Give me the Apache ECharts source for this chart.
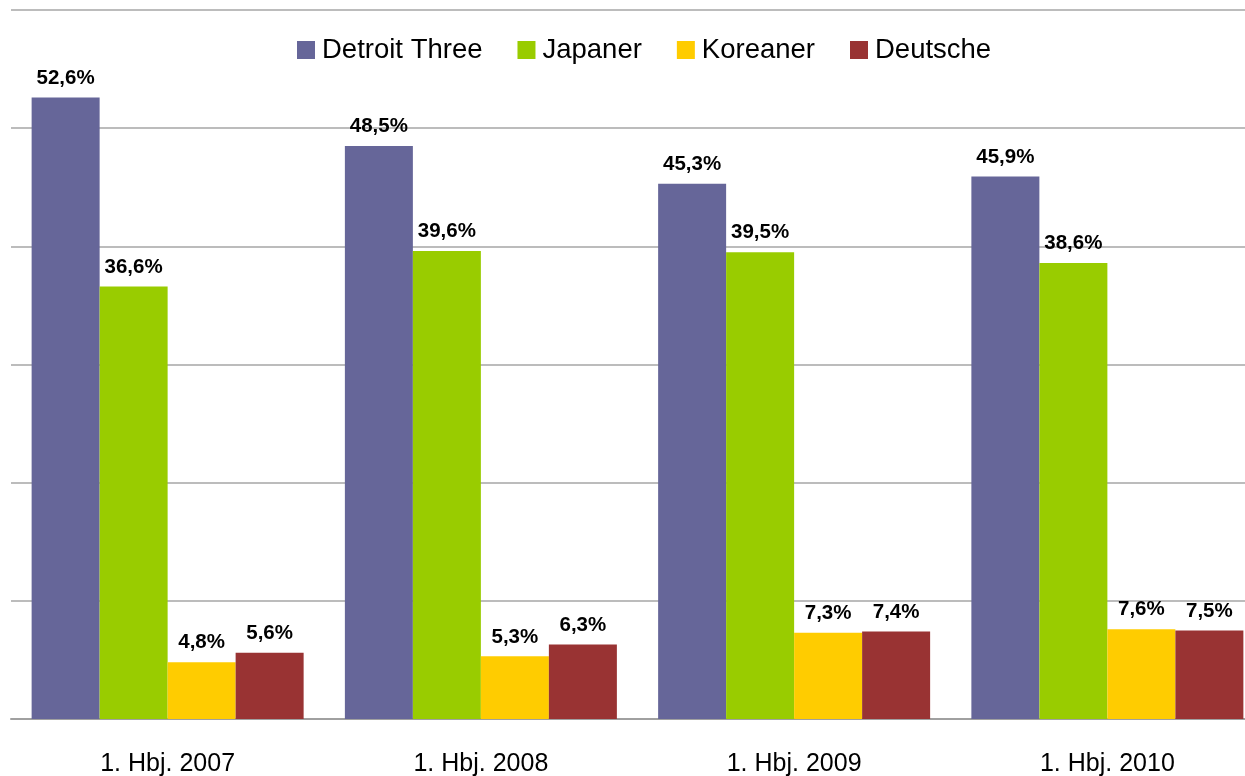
<!DOCTYPE html>
<html>
<head>
<meta charset="utf-8">
<script src="https://cdn.jsdelivr.net/npm/echarts@6/dist/echarts.min.js"></script>
<style>
    html, body { margin: 0; padding: 0; background: #fff; }
    #main { width: 1245px; height: 776px; }
</style>
</head>
<body>
<div id="main"></div>
<script>
// Marktanteile USA
var categories = ['1. Hbj. 2007', '1. Hbj. 2008', '1. Hbj. 2009', '1. Hbj. 2010'];
var seriesNames = ['Detroit Three', 'Japaner', 'Koreaner', 'Deutsche'];
var detroit = [52.6, 48.5, 45.3, 45.9];
var japaner = [36.6, 39.6, 39.5, 38.6];
var koreaner = [4.8, 5.3, 7.3, 7.6];
var deutsche = [5.6, 6.3, 7.4, 7.5];

(function () {
    var myChart = echarts.init(document.getElementById('main'));
    var font = 'Liberation Sans, Arial, sans-serif';
    var values = [detroit, japaner, koreaner, deutsche];

    var series = seriesNames.map(function (name, i) {
        return {
            name: name,
            type: 'bar',
            barWidth: 68,
            barGap: 0,
            data: values[i],
            label: {
                show: true,
                position: 'top',
                distance: 9,
                color: '#000',
                fontFamily: font,
                fontWeight: 'bold',
                fontSize: 20.5,
                formatter: function (p) {
                    return p.value.toFixed(1).replace('.', ',') + '%';
                }
            }
        };
    });

    option = {
        animation: false,
        color: ['#666699', '#99CC00', '#FFCC00', '#993333'],
        legend: {
            top: 36,
            left: 297,
            padding: 0,
            itemWidth: 18,
            itemHeight: 18,
            itemGap: 35,
            icon: 'rect',
            textStyle: {
                fontFamily: font,
                fontSize: 27.5,
                color: '#000',
                padding: [0, 0, 0, 2]
            },
            data: seriesNames
        },
        grid: {
            left: 11,
            top: 10,
            width: 1253,
            bottom: 57,
            outerBoundsMode: 'none'
        },
        xAxis: {
            type: 'category',
            data: categories,
            axisTick: { show: false },
            axisLine: { lineStyle: { color: '#A0A0A0', width: 2 } },
            axisLabel: {
                margin: 33,
                color: '#000',
                fontFamily: font,
                fontSize: 25
            }
        },
        yAxis: {
            type: 'value',
            min: 0,
            max: 60,
            interval: 10,
            axisLabel: { show: false },
            axisLine: { show: false },
            axisTick: { show: false },
            splitLine: { lineStyle: { color: '#A6A6A6', width: 1.5 } }
        },
        series: series
    };
    myChart.setOption(option);
})()
</script>
</body>
</html>
